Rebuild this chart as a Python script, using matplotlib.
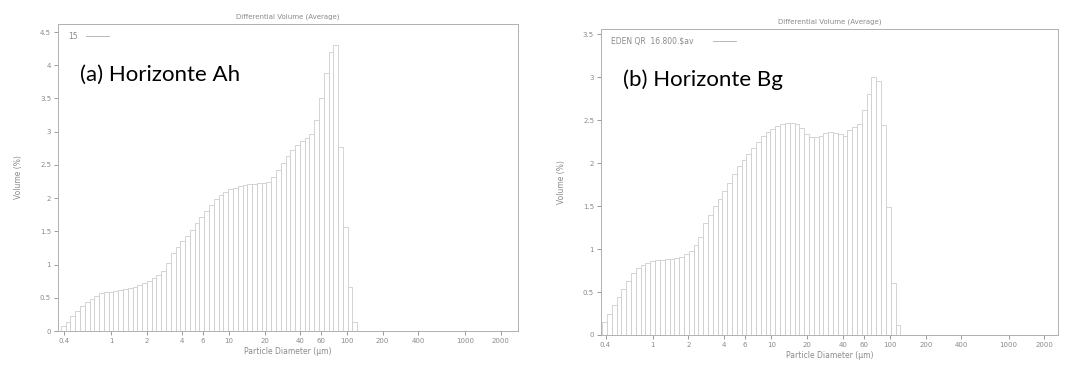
import numpy as np
import matplotlib.pyplot as plt
from matplotlib.ticker import FixedLocator, FixedFormatter, NullLocator

# LS channel edges (um), log spaced from 0.375
first_edge = 0.375
ratio = 1.0978

# differential volume (%) per channel, horizon Ah
vol_ah = [0.08, 0.14, 0.22, 0.30, 0.37, 0.43, 0.48, 0.53, 0.57, 0.58,
          0.59, 0.60, 0.61, 0.63, 0.65, 0.67, 0.69, 0.72, 0.76, 0.80,
          0.85, 0.90, 1.02, 1.17, 1.27, 1.35, 1.43, 1.52, 1.62, 1.72,
          1.81, 1.90, 1.99, 2.04, 2.09, 2.13, 2.16, 2.18, 2.20, 2.22,
          2.22, 2.23, 2.23, 2.24, 2.32, 2.42, 2.53, 2.64, 2.73, 2.80,
          2.86, 2.91, 2.97, 3.17, 3.50, 3.88, 4.20, 4.30, 2.77, 1.57,
          0.66, 0.14]

# differential volume (%) per channel, horizon Bg
vol_bg = [0.15, 0.25, 0.35, 0.44, 0.54, 0.63, 0.72, 0.78, 0.81, 0.84,
          0.86, 0.87, 0.87, 0.88, 0.88, 0.89, 0.91, 0.94, 0.98, 1.05,
          1.14, 1.30, 1.40, 1.50, 1.58, 1.68, 1.77, 1.87, 1.96, 2.04,
          2.11, 2.18, 2.24, 2.31, 2.36, 2.40, 2.43, 2.45, 2.46, 2.46,
          2.45, 2.41, 2.34, 2.30, 2.30, 2.32, 2.35, 2.36, 2.35, 2.34,
          2.31, 2.38, 2.42, 2.45, 2.62, 2.80, 3.00, 2.95, 2.44, 1.49,
          0.60, 0.12]

xticks = [0.4, 1, 2, 4, 6, 10, 20, 40, 60, 100, 200, 400, 1000, 2000]
xticklabels = ['0.4', '1', '2', '4', '6', '10', '20', '40', '60', '100',
               '200', '400', '1000', '2000']

gray = '#8a8a8a'
bar_edge = '#cdcdcd'

fig = plt.figure(figsize=(10.77, 3.67), dpi=100)

panels = [
    # axes rect, data, xlim, ylim top, yticks, legend text, legend line x, label
    ([0.0539, 0.098, 0.427, 0.8365], vol_ah, (0.355, 2810), 4.62,
     [0, 0.5, 1, 1.5, 2, 2.5, 3, 3.5, 4, 4.5], '15', 0.06, '(a) Horizonte Ah'),
    ([0.558, 0.0872, 0.4243, 0.834], vol_bg, (0.366, 2600), 3.56,
     [0, 0.5, 1, 1.5, 2, 2.5, 3, 3.5], 'EDEN QR  16.800.\\$av', 0.245,
     '(b) Horizonte Bg'),
]

for rect, vals, xlim, ytop, yticks, leg, lx0, label in panels:
    ax = fig.add_axes(rect)
    edges = first_edge * ratio ** np.arange(len(vals) + 1)
    ax.bar(edges[:-1], vals, width=np.diff(edges), align='edge',
           facecolor='white', edgecolor=bar_edge, linewidth=0.6)
    ax.set_xscale('log')
    ax.set_xlim(*xlim)
    ax.set_ylim(0, ytop)

    ax.xaxis.set_major_locator(FixedLocator(xticks))
    ax.xaxis.set_major_formatter(FixedFormatter(xticklabels))
    ax.xaxis.set_minor_locator(NullLocator())
    ax.set_yticks(yticks)
    ax.set_yticklabels(['%g' % t for t in yticks])
    ax.tick_params(labelsize=5, colors=gray, length=3, width=0.6, pad=2)

    for s in ax.spines.values():
        s.set_color('#b0b0b0')
        s.set_linewidth(0.7)

    ax.set_title('Differential Volume (Average)', fontsize=5, color=gray, pad=4)
    ax.set_xlabel('Particle Diameter (\u00b5m)', fontsize=5.5, color=gray, labelpad=2)
    ax.set_ylabel('Volume (%)', fontsize=5.5, color=gray, labelpad=12)

    # legend entry
    ax.text(0.022, 0.975, leg, transform=ax.transAxes, fontsize=5.5,
            color=gray, va='top', ha='left')
    ax.plot([lx0, lx0 + 0.05], [0.96, 0.96], transform=ax.transAxes,
            color='#b8b8b8', lw=0.7)

    ax.text(0.048, 0.835, label, transform=ax.transAxes, fontsize=16,
            family='Lato', color='black', va='center', ha='left')

fig.savefig('out.png', dpi=100)
